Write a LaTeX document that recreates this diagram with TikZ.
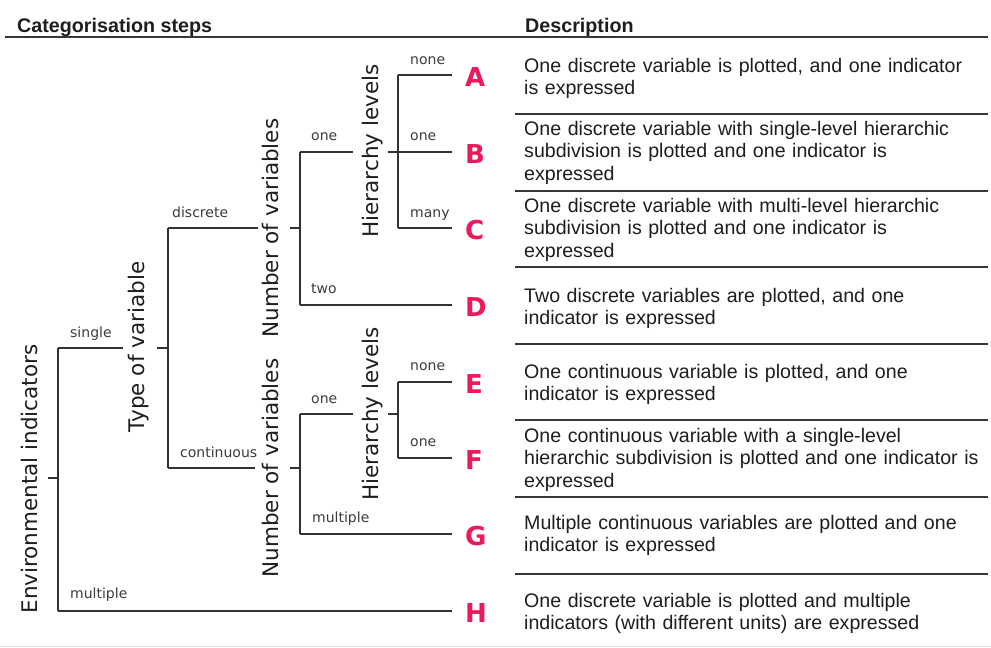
\documentclass[tikz,border=0pt]{standalone}
\usepackage{fontspec}
\setmainfont{Liberation Sans}
\newfontfamily\treefont{DejaVu Sans}
\definecolor{ink}{RGB}{30,30,30}
\definecolor{choiceink}{RGB}{60,60,60}
\definecolor{linegray}{RGB}{50,50,50}
\definecolor{rulegray}{RGB}{55,55,55}
\definecolor{leafred}{RGB}{236,26,90}
\begin{document}
\begin{tikzpicture}[x=1pt,y=-1pt,
  branch/.style={draw=linegray,line width=1.3pt},
  tipline/.style={branch,shorten >=13pt},
  axislabel/.style={font=\treefont\fontsize{21.5}{24}\selectfont,text=ink,rotate=90,anchor=base,inner sep=0pt},
  choice/.style={font=\treefont\fontsize{14}{16}\selectfont,text=choiceink,anchor=base west,inner sep=0pt},
  leafletter/.style={font=\treefont\bfseries\fontsize{26}{28}\selectfont,text=leafred,anchor=west,inner sep=0pt},
  desc/.style={font=\fontsize{19.6}{22.5}\selectfont,text=ink,anchor=base west,align=left,text width=480pt,inner sep=0pt},
  heading/.style={font=\bfseries\fontsize{19.7}{24}\selectfont,text=ink,anchor=base west,inner sep=0pt},
  rowrule/.style={draw=rulegray,line width=1.2pt}]
\useasboundingbox[fill=white] (0,0) rectangle (991,648);

% table headings and rules
\node[heading] (hsteps) at (17,32) {Categorisation steps};
\node[heading] (hdesc) at (525,32) {Description};
\draw[rowrule] (5,37) -- (988,37);
\foreach \y in {114,191,267,344,420,497,574}
  \draw[rowrule] (515,\y) -- (988,\y);
\draw[gray!25,line width=1pt] (0,646) -- (991,646);

% step labels (rotated)
\node[axislabel] (env)   at (37,479)  {Environmental indicators};
\node[axislabel] (type)  at (144,347) {Type of variable};
\node[axislabel] (numD)  at (278,228) {Number of variables};
\node[axislabel] (numC)  at (278,468) {Number of variables};
\node[axislabel] (hierD) at (378,151) {Hierarchy levels};
\node[axislabel] (hierC) at (378,414) {Hierarchy levels};

% outcome letters
\node[leafletter] (A) at (465,77)  {A};
\node[leafletter] (B) at (465,154) {B};
\node[leafletter] (C) at (465,230) {C};
\node[leafletter] (D) at (465,307) {D};
\node[leafletter] (E) at (465,384) {E};
\node[leafletter] (F) at (465,460) {F};
\node[leafletter] (G) at (465,536) {G};
\node[leafletter] (H) at (465,613) {H};

% junction points of the tree
\coordinate (envT)  at (48,478);
\coordinate (envJ)  at (58,478);
\coordinate (sgl)   at (58,348);
\coordinate (mlt)   at (58,611);
\coordinate (sglE)  at (123,348);
\coordinate (typeT) at (157,348);
\coordinate (typeJ) at (168,348);
\coordinate (dsc)   at (168,228);
\coordinate (cnt)   at (168,468);
\coordinate (dscE)  at (258,228);
\coordinate (cntE)  at (255,468);
\coordinate (nDT)   at (290,228);
\coordinate (nDJ)   at (300,228);
\coordinate (nCT)   at (290,468);
\coordinate (nCJ)   at (300,468);
\coordinate (oneD)  at (300,152);
\coordinate (two)   at (300,305);
\coordinate (oneC)  at (300,414);
\coordinate (mltC)  at (300,534);
\coordinate (oneDE) at (353,152);
\coordinate (oneCE) at (353,414);
\coordinate (hDT)   at (388,152);
\coordinate (hDJ)   at (398,152);
\coordinate (hCT)   at (388,414);
\coordinate (hCJ)   at (398,414);
\coordinate (hA)    at (398,75);
\coordinate (hC)    at (398,228);
\coordinate (hE)    at (398,382);
\coordinate (hF)    at (398,458);

% root
\draw[branch] (envT) -- (envJ);
\draw[branch] (sgl) -- (mlt);
\draw[branch] (sgl) -- (sglE);
\draw[tipline] (mlt) -- (mlt -| H.west);
% type of variable
\draw[branch] (typeT) -- (typeJ);
\draw[branch] (dsc) -- (cnt);
\draw[branch] (dsc) -- (dscE);
\draw[branch] (cnt) -- (cntE);
% number of variables, discrete
\draw[branch] (nDT) -- (nDJ);
\draw[branch] (oneD) -- (two);
\draw[branch] (oneD) -- (oneDE);
\draw[tipline] (two) -- (two -| D.west);
% hierarchy levels, discrete
\draw[branch] (hDT) -- (hDJ);
\draw[branch] (hA) -- (hC);
\draw[tipline] (hA) -- (hA -| A.west);
\draw[tipline] (hDJ) -- (hDJ -| B.west);
\draw[tipline] (hC) -- (hC -| C.west);
% number of variables, continuous
\draw[branch] (nCT) -- (nCJ);
\draw[branch] (oneC) -- (mltC);
\draw[branch] (oneC) -- (oneCE);
\draw[tipline] (mltC) -- (mltC -| G.west);
% hierarchy levels, continuous
\draw[branch] (hCT) -- (hCJ);
\draw[branch] (hE) -- (hF);
\draw[tipline] (hE) -- (hE -| E.west);
\draw[tipline] (hF) -- (hF -| F.west);

% branch labels
\node[choice] (lsingle) at (70,337)  {single};
\node[choice] (lmult)   at (70,598)  {multiple};
\node[choice] (ldisc)   at (172,217) {discrete};
\node[choice] (lcont)   at (180,457) {continuous};
\node[choice] (lone1)   at (311,140) {one};
\node[choice] (ltwo)    at (311,293) {two};
\node[choice] (lnone1)  at (410,64)  {none};
\node[choice] (lone2)   at (410,140) {one};
\node[choice] (lmany)   at (410,217) {many};
\node[choice] (lone3)   at (311,403) {one};
\node[choice] (lmultc)  at (312,522) {multiple};
\node[choice] (lnone2)  at (410,370) {none};
\node[choice] (lone4)   at (410,446) {one};

% descriptions
\node[desc] (dA) at (524,72)  {One discrete variable is plotted, and one indicator\\is expressed};
\node[desc] (dB) at (524,135) {One discrete variable with single-level hierarchic\\subdivision is plotted and one indicator is\\expressed};
\node[desc] (dC) at (524,212) {One discrete variable with multi-level hierarchic\\subdivision is plotted and one indicator is\\expressed};
\node[desc] (dD) at (524,302) {Two discrete variables are plotted, and one\\indicator is expressed};
\node[desc] (dE) at (524,378) {One continuous variable is plotted, and one\\indicator is expressed};
\node[desc] (dF) at (524,442) {One continuous variable with a single-level\\hierarchic subdivision is plotted and one indicator is\\expressed};
\node[desc] (dG) at (524,529) {Multiple continuous variables are plotted and one\\indicator is expressed};
\node[desc] (dH) at (524,607) {One discrete variable is plotted and multiple\\indicators (with different units) are expressed};
\end{tikzpicture}
\end{document}
